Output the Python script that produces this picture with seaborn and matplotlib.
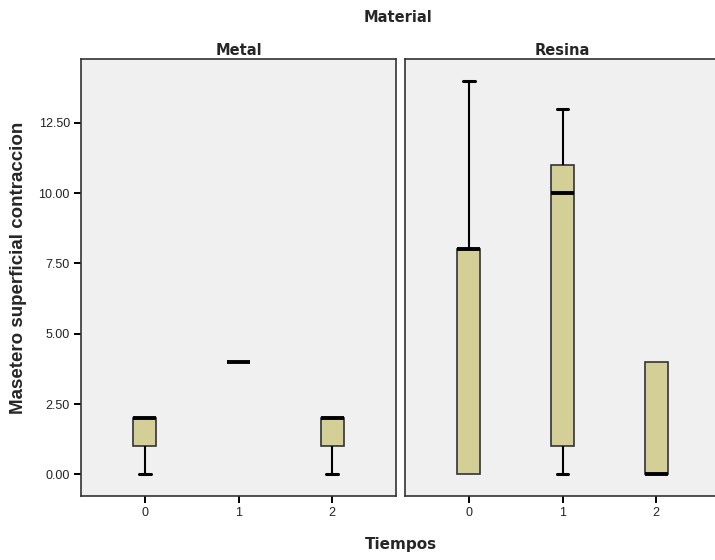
import matplotlib
matplotlib.use("Agg")
import matplotlib.pyplot as plt
import seaborn as sns
import pandas as pd
import numpy as np

# data (raw values reconstructing the box statistics)
materials = ["Metal", "Resina"]
tiempos = ["0", "1", "2"]
metal_t0 = [0, 1, 2, 2, 2]
metal_t1 = [4, 4, 4, 4, 4]
metal_t2 = [0, 1, 2, 2, 2]
resina_t0 = [0, 0, 8, 8, 14]
resina_t1 = [0, 1, 10, 11, 13]
resina_t2 = [0, 0, 0, 4, 4]
yticks = [0.0, 2.5, 5.0, 7.5, 10.0, 12.5]

groups = {"Metal": [metal_t0, metal_t1, metal_t2],
          "Resina": [resina_t0, resina_t1, resina_t2]}
rows = []
for mat in materials:
    for t, vals in zip(tiempos, groups[mat]):
        for v in vals:
            rows.append({"Material": mat, "Tiempos": t, "valor": v})
df = pd.DataFrame(rows)

sns.set_style("white")
plt.rcParams["font.family"] = ["Liberation Sans", "DejaVu Sans"]

fig = plt.figure(figsize=(7.15, 5.6), dpi=100)
W, H = 715, 560
ax_pos = [(81, 59, 315, 437), (405, 59, 315, 437)]
axes = []
for (x0, y0, w, h) in ax_pos:
    axes.append(fig.add_axes([x0 / W, 1 - (y0 + h) / H, w / W, h / H]))

box_color = "#D3CF97"
edge = "#333333"
for ax, mat in zip(axes, materials):
    sub = df[df["Material"] == mat]
    sns.boxplot(data=sub, x="Tiempos", y="valor", order=tiempos, ax=ax,
                color=box_color, width=0.25, linecolor=edge, linewidth=1.2,
                whis=1.5, fliersize=0,
                boxprops=dict(facecolor=box_color, edgecolor=edge),
                whiskerprops=dict(color="black", linewidth=1.5),
                capprops=dict(color="black", linewidth=2.2),
                medianprops=dict(color="black", linewidth=2.8))
    # hide caps of collapsed (zero-length) whiskers, as in the reference
    for line in ax.lines:
        xd, yd = (np.asarray(a, dtype=float) for a in line.get_data())
        if len(xd) == 2 and yd[0] == yd[1] and abs(abs(xd[1] - xd[0]) - 0.125) < 1e-6:
            i = int(round(xd.mean()))
            vals = groups[mat][i]
            q1, q3 = np.percentile(vals, [25, 75])
            if yd[0] in (q1, q3):
                line.set_visible(False)
    ax.set_facecolor("#F0F0F0")
    ax.set_xlim(-0.68, 2.68)
    ax.set_ylim(-0.77, 14.77)
    ax.set_yticks(yticks)
    ax.set_xlabel("")
    ax.set_ylabel("")
    for s in ax.spines.values():
        s.set_color(edge)
        s.set_linewidth(1.2)
        s.set_visible(True)
    ax.tick_params(axis="both", direction="out", length=5, width=1.4, color="black",
                   labelsize=9, labelcolor="#222222", pad=3,
                   bottom=True, left=True)
    ax.set_title(mat, fontsize=10.5, fontweight="bold", family="DejaVu Sans", pad=3)

axes[0].set_yticklabels([f"{v:.2f}" for v in yticks])
axes[1].tick_params(axis="y", left=False, labelleft=False)

fig.text(398 / W, 1 - 17 / H, "Material", ha="center", va="center",
         fontsize=10.5, fontweight="bold", family="DejaVu Sans")
fig.text(401 / W, 1 - 545 / H, "Tiempos", ha="center", va="center",
         fontsize=11, fontweight="bold", family="DejaVu Sans")
fig.text(19 / W, 1 - 268 / H, "Masetero superficial contraccion", ha="center", va="center",
         rotation=90, fontsize=13.5, fontweight="bold", family="Liberation Sans")

fig.savefig("out.png", dpi=100, facecolor="white")
